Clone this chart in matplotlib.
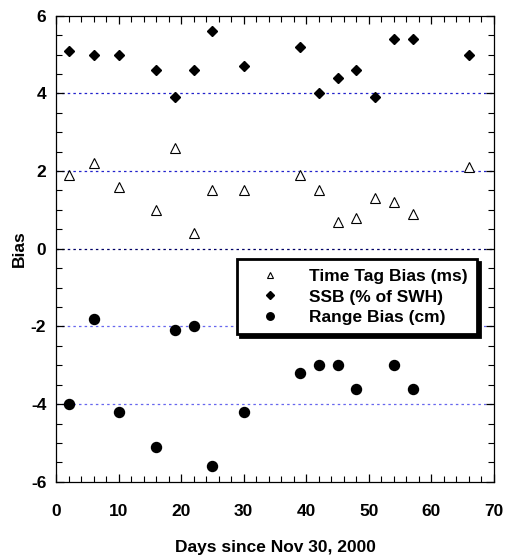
import matplotlib.pyplot as plt
from matplotlib.ticker import MultipleLocator

plt.rcParams["font.family"] = ["Liberation Sans", "DejaVu Sans"]
plt.rcParams["font.weight"] = "bold"
plt.rcParams["axes.unicode_minus"] = False

days_tt = [2, 6, 10, 16, 19, 22, 25, 30, 39, 42, 45, 48, 51, 54, 57, 66]
time_tag = [1.9, 2.2, 1.6, 1.0, 2.6, 0.4, 1.5, 1.5, 1.9, 1.5, 0.7, 0.8, 1.3, 1.2, 0.9, 2.1]

days_ssb = [2, 6, 10, 16, 19, 22, 25, 30, 39, 42, 45, 48, 51, 54, 57, 66]
ssb = [5.1, 5.0, 5.0, 4.6, 3.9, 4.6, 5.6, 4.7, 5.2, 4.0, 4.4, 4.6, 3.9, 5.4, 5.4, 5.0]

days_rb = [2, 6, 10, 16, 19, 22, 25, 30, 39, 42, 45, 48, 54, 57]
range_bias = [-4.0, -1.8, -4.2, -5.1, -2.1, -2.0, -5.6, -4.2, -3.2, -3.0, -3.0, -3.6, -3.0, -3.6]

GRID = {4: "#2222cc", 2: "#2222cc", 0: "#000066", -2: "#6666ee", -4: "#6666ee"}


def main() -> None:
    fig = plt.figure(figsize=(5.05, 5.59), dpi=100)
    ax = fig.add_axes([0.111, 0.138, 0.867, 0.834])

    for y, c in GRID.items():
        ax.axhline(y, color=c, linestyle=(0, (2, 2.5)), linewidth=0.9, zorder=1)

    ax.plot(days_tt, time_tag, linestyle="none", marker="^", markersize=6.5,
            markerfacecolor="white", markeredgecolor="black", markeredgewidth=0.8,
            label="Time Tag Bias (ms)", zorder=3)
    ax.plot(days_ssb, ssb, linestyle="none", marker="D", markersize=5.5,
            color="black", label="SSB (% of SWH)", zorder=3)
    ax.plot(days_rb, range_bias, linestyle="none", marker="o", markersize=7.2,
            color="black", label="Range Bias (cm)", zorder=3)

    ax.set_xlim(0, 70)
    ax.set_ylim(-6, 6)
    ax.xaxis.set_major_locator(MultipleLocator(10))
    ax.xaxis.set_minor_locator(MultipleLocator(2))
    ax.yaxis.set_major_locator(MultipleLocator(2))
    ax.yaxis.set_minor_locator(MultipleLocator(0.5))
    ax.tick_params(which="both", direction="in", top=True, right=True, labelsize=12.5)
    ax.tick_params(axis="x", pad=16)
    ax.tick_params(axis="y", pad=7)
    ax.tick_params(which="major", length=6, width=0.9)
    ax.tick_params(which="minor", length=4, width=0.8)
    for label in ax.get_xticklabels() + ax.get_yticklabels():
        label.set_fontweight("bold")
    for spine in ax.spines.values():
        spine.set_linewidth(0.9)

    ax.set_xlabel("Days since Nov 30, 2000", fontsize=12.5, fontweight="bold", labelpad=15)
    ax.set_ylabel("Bias", fontsize=12.5, fontweight="bold", labelpad=3)

    leg = ax.legend(loc="upper left", bbox_to_anchor=(0.413, 0.477), borderaxespad=0,
                    fontsize=12.5, frameon=True, fancybox=False, edgecolor="black",
                    framealpha=1, shadow={"color": "black", "alpha": 1},
                    markerscale=0.75, handletextpad=0.9, borderpad=0.55,
                    labelspacing=0.3, handlelength=2.7)
    leg.get_frame().set_linewidth(2)
    for text in leg.get_texts():
        text.set_fontweight("bold")

    fig.savefig("out.png", dpi=100)


if __name__ == "__main__":
    main()
